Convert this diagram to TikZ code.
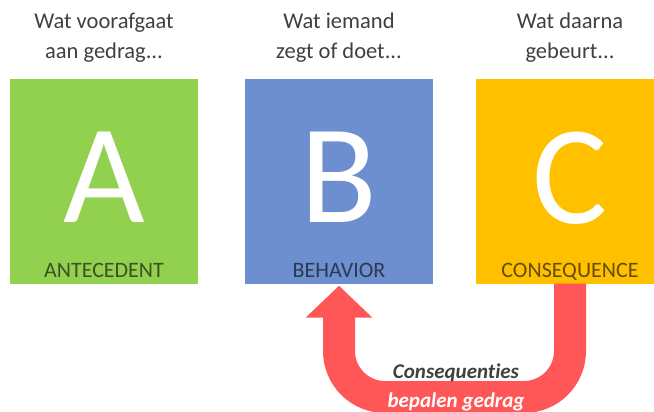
\documentclass[tikz,border=0pt]{standalone}
\usepackage{fontspec}
\setmainfont{Carlito}[Ligatures=NoCommon]
\usetikzlibrary{arrows.meta}
\definecolor{abcgreen}{HTML}{92D050}
\definecolor{abcblue}{HTML}{6E8FCF}
\definecolor{abcyellow}{HTML}{FFC000}
\definecolor{abcred}{HTML}{FF5757}
\definecolor{headgray}{HTML}{404040}

\begin{document}
\begin{tikzpicture}[x=1pt,y=-1pt,
  box/.style={minimum width=188pt,minimum height=204pt,inner sep=0pt,
    text=white,text depth=8pt,font=\fontsize{141}{141}\selectfont},
  head/.style={align=center,text=headgray,font=\fontsize{22.5}{30}\selectfont},
  caption/.style={anchor=base,text=black,text opacity=0.6,
    font=\fontsize{22}{22}\selectfont},
  feedback/.style={draw=abcred,line width=32pt,rounded corners=46pt},
  armlabel/.style={anchor=base,font=\bfseries\itshape\fontsize{21}{21}\selectfont}]
  \useasboundingbox (0,0) rectangle (654,412);
  \clip (0,0) rectangle (654,412);
  % Drie blokken A, B, C
  \foreach \n/\x/\col/\cap/\txt in {
      A/104/abcgreen/ANTECEDENT/{Wat voorafgaat\\aan gedrag...},
      B/339/abcblue/BEHAVIOR/{Wat iemand\\zegt of doet...},
      C/570/abcyellow/CONSEQUENCE/{Wat daarna\\gebeurt...}} {
    \node[box,fill=\col] (\n) at (\x,181.5) {\n};
    \node[caption] (\n cap) at ([yshift=6pt]\n.south) {\cap};
    \node[head] (\n head) at (\x,38) {\txt};
  }
  % Terugkoppeling van C naar B
  \coordinate (bottom) at (455,397);
  \draw[feedback,-{Triangle[width=65pt,length=32pt]}]
    (C.south) |- (bottom) -| ([yshift=-2pt]B.south);
  \node[armlabel,text=headgray] (cons) at (456,378) {Consequenties};
  \node[armlabel,text=white] (bepalen) at (456,407) {bepalen gedrag};
\end{tikzpicture}
\end{document}
